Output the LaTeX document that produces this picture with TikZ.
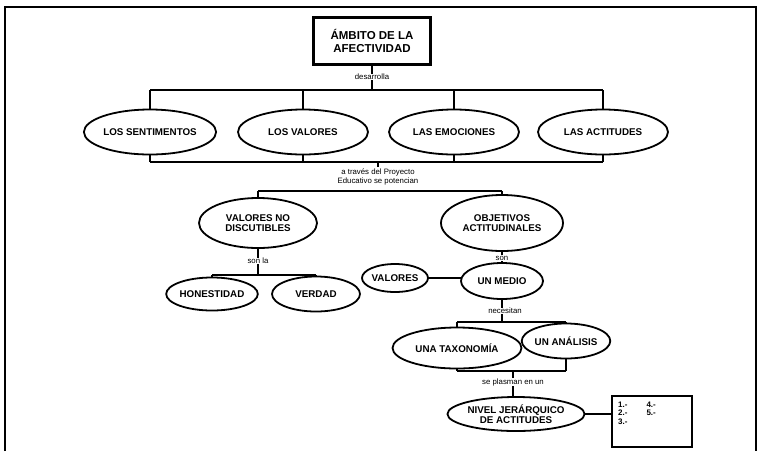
\documentclass[tikz,border=0pt]{standalone}
\usepackage{fontspec}
\setmainfont{Liberation Sans}
\usetikzlibrary{shapes.geometric,backgrounds}
\begin{document}
\begin{tikzpicture}[x=1pt,y=-1pt,
  ell/.style={ellipse,draw,line width=1.8pt,fill=white,inner sep=0pt,align=center,
    font=\fontsize{9.8}{10.3}\selectfont\bfseries},
  lab/.style={fill=white,inner sep=0.6pt,align=center,font=\fontsize{7.8}{8.8}\selectfont},
  con/.style={line width=1.6pt},
  bar/.style={line width=2pt}]
\useasboundingbox (0,0) rectangle (758,451);
\draw[line width=1.5pt] (5,451) -- (5,7) -- (756,7) -- (756,451);
% top box
\node[draw,line width=2.6pt,minimum width=117pt,minimum height=47pt,inner sep=0pt,align=center,
  font=\fontsize{11.5}{12.5}\selectfont\bfseries] (top) at (372,41) {ÁMBITO DE LA\\AFECTIVIDAD};
% row of ellipses
\node[ell,minimum width=130pt,minimum height=45pt] (sen) at (150,132) {LOS SENTIMENTOS};
\node[ell,minimum width=130pt,minimum height=45pt] (val) at (303,132) {LOS VALORES};
\node[ell,minimum width=130pt,minimum height=45pt] (emo) at (454,132) {LAS EMOCIONES};
\node[ell,minimum width=130pt,minimum height=45pt] (act) at (603,132) {LAS ACTITUDES};
\coordinate (b1) at (372,90);
\coordinate (b2) at (378,162);
\coordinate (b2d) at (378,167);
\node[lab] (l2) at (378,177) {a través del Proyecto\\Educativo se potencian};
% second level
\node[ell,minimum width=118pt,minimum height=50pt] (vnd) at (258,223) {VALORES NO\\DISCUTIBLES};
\node[ell,minimum width=122pt,minimum height=56pt] (oa) at (502,223) {OBJETIVOS\\ACTITUDINALES};
\coordinate (b3) at (380,191);
% valores no discutibles branch
\coordinate (b4) at (258,275);
\node[ell,minimum width=88pt,minimum height=33pt] (hon) at (212,294) {HONESTIDAD};
\node[ell,minimum width=88pt,minimum height=35pt] (ver) at (316,294) {VERDAD};
% objetivos branch
\node[ell,minimum width=82pt,minimum height=36pt] (med) at (502,281) {UN MEDIO};
\node[ell,minimum width=66pt,minimum height=28pt] (valo) at (395,278) {VALORES};
\coordinate (b5) at (502,322);
\node[ell,minimum width=129pt,minimum height=41pt] (tax) at (457,348) {UNA TAXONOMÍA};
\node[ell,minimum width=86pt,minimum height=35pt] (ana) at (566,341) {UN ANÁLISIS};
\coordinate (b6) at (513,371);
\node[ell,minimum width=120pt,minimum height=34pt] (niv) at (516,414) {NIVEL JERÁRQUICO\\DE ACTITUDES};
\node[draw,line width=2pt,minimum width=80pt,minimum height=51pt,inner sep=0pt] (box) at (652,421) {};
\node[anchor=north west,inner sep=0pt,font=\fontsize{8}{8.3}\selectfont\bfseries] (nums) at ([shift={(7,7)}]box.north west)
  {\begin{tabular}{@{}l@{\hspace{19pt}}l@{}}1.-&4.-\\2.-&5.-\\3.-&\end{tabular}};
% labels
\node[lab] (l1) at (372,77) {desarrolla};
\node[lab] (l3) at (258,261) {son la};
\node[lab] (l4) at (502,258) {son};
\node[lab] (l5) at (505,311) {necesitan};
\node[lab] (l6) at (513,382) {se plasman en un};
\begin{scope}[on background layer]
\draw[con] (top.south) -- (b1);
\draw[bar] (sen.center |- b1) -- (act.center |- b1);
\foreach \n in {sen,val,emo,act} {\draw[con] (\n.center) -- (\n.center |- b1);
  \draw[con] (\n.center) -- (\n.center |- b2);}
\draw[bar] (sen.center |- b2) -- (act.center |- b2);
\draw[con] (b2) -- (b2d);
\draw[line width=2.6pt] (vnd.center |- b3) -- (oa.center |- b3);
\draw[con] (vnd.center) -- (vnd.center |- b3);
\draw[con] (oa.center) -- (oa.center |- b3);
\draw[con] (vnd.center) -- (b4);
\draw[bar] (hon.center |- b4) -- (ver.center |- b4);
\draw[con] (hon.center) -- (hon.center |- b4);
\draw[con] (ver.center) -- (ver.center |- b4);
\draw[con] (oa.center) -- (med.center);
\draw[bar] (valo.center) -- (valo.center -| med.center);
\draw[con] (med.center) -- (b5);
\draw[bar] (tax.center |- b5) -- (ana.center |- b5);
\draw[con] (tax.center) -- (tax.center |- b5);
\draw[con] (ana.center) -- (ana.center |- b5);
\draw[bar] (tax.center |- b6) -- (ana.center |- b6);
\draw[con] (tax.center) -- (tax.center |- b6);
\draw[con] (ana.center) -- (ana.center |- b6);
\draw[con] (b6) -- (b6 |- niv.center);
\draw[con] (niv.center) -- (niv.center -| box.west);
\end{scope}
\end{tikzpicture}
\end{document}
